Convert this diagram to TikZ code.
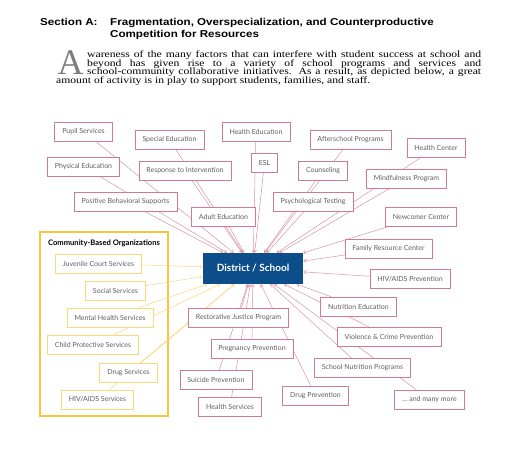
\documentclass[tikz,border=0pt]{standalone}
\usepackage{fontspec}
\setmainfont{Liberation Serif}
\newfontfamily\headfont{Liberation Sans}
\newfontfamily\boxfont{Lato}
\usepackage{tikz}
\usetikzlibrary{backgrounds,arrows.meta}

\definecolor{pinkline}{RGB}{216,146,168}
\definecolor{pinkedge}{RGB}{206,124,150}
\definecolor{cbogold}{RGB}{250,196,64}
\definecolor{cboline}{RGB}{252,214,122}
\definecolor{hubblue}{RGB}{12,78,138}
\definecolor{boxtext}{RGB}{95,95,95}
\definecolor{capgray}{RGB}{125,125,125}

\newcommand{\stretchx}[2][1.2]{\scalebox{#1}[1]{#2}}

\tikzset{
	pbox/.style={draw=pinkedge, fill=white, line width=0.6pt, minimum height=19pt,
		inner xsep=7.5pt, text=boxtext, font=\boxfont\fontsize{7}{8}\selectfont},
	obox/.style={pbox, draw=cboline},
	hub/.style={fill=hubblue, minimum width=100pt, minimum height=31pt,
		text=white, font=\boxfont\bfseries\fontsize{10}{12}\selectfont},
	pline/.style={draw=pinkline, line width=0.5pt, -{Straight Barb[length=2.5pt,width=3.5pt]}},
	oline/.style={pline, draw=cboline},
	headline/.style={anchor=base west, inner sep=0pt, font=\headfont\bfseries\fontsize{10}{12}\selectfont},
	paraline/.style={anchor=base west, inner sep=0pt, font=\fontsize{9.7}{10}\selectfont}
}

\begin{document}
\begin{tikzpicture}[x=1pt,y=-1pt]
	\useasboundingbox (0,0) rectangle (511,450);

	% heading
	\node[headline] (sec) at (40,25.7) {\stretchx[1.16]{Section A:}};
	\node[headline] (title1) at (110,25.7) {\stretchx[1.16]{Fragmentation, Overspecialization, and Counterproductive}};
	\node[headline] (title2) at (110,37.3) {\stretchx[1.16]{Competition for Resources}};

	% opening paragraph with drop cap
	\node[anchor=base west, inner sep=0pt, text=capgray, font=\fontsize{36}{36}\selectfont] (dropcap) at (57.5,74.7) {A};
	\node[paraline] (par1) at (87,57) {\stretchx{\makebox[328.3pt][s]{wareness of the many factors that can interfere with student success at school and}}};
	\node[paraline] (par2) at (87,66) {\stretchx{\makebox[328.3pt][s]{beyond has given rise to a variety of school programs and services and}}};
	\node[paraline] (par3) at (87,74.7) {\stretchx{\makebox[328.3pt][s]{school-community collaborative initiatives. As a result, as depicted below, a great}}};
	\node[paraline] (par4) at (56,83.7) {\stretchx{amount of activity is in play to support students, families, and staff.}};

	% hub
	\node[hub] (hub) at (253,268.5) {District / School};

	% school programs and services
	\node[pbox] (pupil) at (83.5,131.5) {Pupil Services};
	\node[pbox] (speced) at (169.5,139.5) {Special Education};
	\node[pbox] (healthed) at (256,131.5) {Health Education};
	\node[pbox] (physed) at (83.5,166.5) {Physical Education};
	\node[pbox] (rti) at (185,170.5) {Response to Intervention};
	\node[pbox] (esl) at (264.5,162.5) {ESL};
	\node[pbox] (pbs) at (125.5,201.5) {Positive Behavioral Supports};
	\node[pbox] (adulted) at (223.5,216.5) {Adult Education};
	\node[pbox] (afterschool) at (350.5,139.5) {Afterschool Programs};
	\node[pbox] (healthctr) at (436,147.5) {Health Center};
	\node[pbox] (counsel) at (323,170.5) {Counseling};
	\node[pbox] (mindful) at (406.5,178.5) {Mindfulness Program};
	\node[pbox] (psych) at (313,201.5) {Psychological Testing};
	\node[pbox] (newcomer) at (421,216.5) {Newcomer Center};
	\node[pbox] (family) at (388.5,248.5) {Family Resource Center};
	\node[pbox] (hivprev) at (410,279) {HIV/AIDS Prevention};
	\node[pbox] (nutred) at (358.5,306.5) {Nutrition Education};
	\node[pbox] (restore) at (238.5,317.5) {Restorative Justice Program};
	\node[pbox] (violence) at (389,337) {Violence \& Crime Prevention};
	\node[pbox] (pregnancy) at (252,348.5) {Pregnancy Prevention};
	\node[pbox] (schoolnut) at (362.5,368) {School Nutrition Programs};
	\node[pbox] (suicide) at (216,379.5) {Suicide Prevention};
	\node[pbox] (drugprev) at (315.5,395.5) {Drug Prevention};
	\node[pbox] (more) at (429.5,399.5) {\dots\ and many more};
	\node[pbox] (healthsvc) at (230,406.5) {Health Services};

	% community-based organizations
	\node[font=\boxfont\bfseries\fontsize{7.6}{9}\selectfont, inner sep=0pt] (cbotitle) at (104,243) {Community-Based Organizations};
	\node[obox] (juvenile) at (98.5,263.5) {Juvenile Court Services};
	\node[obox] (social) at (115.5,290.5) {Social Services};
	\node[obox] (mental) at (110,317.5) {Mental Health Services};
	\node[obox] (child) at (93,344.5) {Child Protective Services};
	\node[obox] (drugsvc) at (128.5,372.5) {Drug Services};
	\node[obox] (hivsvc) at (97.5,399.5) {HIV/AIDS Services};

	% connectors behind the boxes
	\begin{scope}[on background layer]
		\draw[cbogold, line width=1.2pt] (40,232) rectangle (168,416);	%frame
		\foreach \n in {pupil,speced,healthed,physed,rti,esl,pbs,adulted,afterschool,healthctr,counsel,mindful,psych,newcomer,family,hivprev,nutred,restore,violence,pregnancy,schoolnut,suicide,drugprev,more,healthsvc}
			\draw[pline] (\n) -- (hub);
		\foreach \n in {juvenile,social,mental,child,drugsvc,hivsvc}
			\draw[oline] (\n) -- (hub);
	\end{scope}
\end{tikzpicture}
\end{document}
